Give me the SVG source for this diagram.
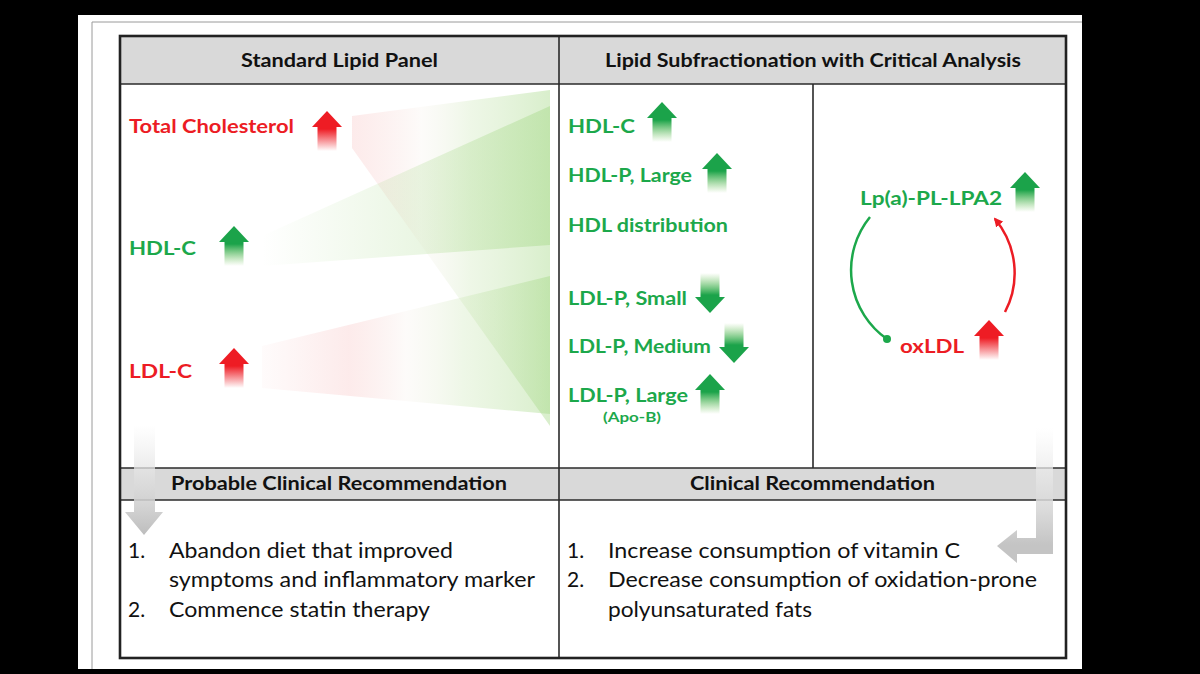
<svg xmlns="http://www.w3.org/2000/svg" xmlns:xlink="http://www.w3.org/1999/xlink" width="1200" height="674" viewBox="0 0 1200 674">
<style>
.hd{font-family:Lato,"Liberation Sans",sans-serif;font-weight:bold;font-size:18px;fill:#111}
.bd{font-family:Lato,"Liberation Sans",sans-serif;font-size:21px;fill:#111}
.g{font-family:Lato,"Liberation Sans",sans-serif;font-weight:bold;font-size:19px;fill:#1ca84b}
.r{font-family:Lato,"Liberation Sans",sans-serif;font-weight:bold;font-size:19px;fill:#ec1c24}
.ln{stroke:#2a2a2a;stroke-width:1.6;fill:none}
</style>
<defs>
<linearGradient id="gUpR" x1="0" y1="0" x2="0" y2="1"><stop offset="0" stop-color="#ee1c24"/><stop offset="0.45" stop-color="#ee1c24"/><stop offset="1" stop-color="#ee1c24" stop-opacity="0"/></linearGradient>
<linearGradient id="gUpG" x1="0" y1="0" x2="0" y2="1"><stop offset="0" stop-color="#1ba34a"/><stop offset="0.45" stop-color="#1ba34a"/><stop offset="1" stop-color="#6cc04a" stop-opacity="0"/></linearGradient>
<linearGradient id="gDnG" x1="0" y1="0" x2="0" y2="1"><stop offset="0" stop-color="#6cc04a" stop-opacity="0"/><stop offset="0.55" stop-color="#1ba34a"/><stop offset="1" stop-color="#1ba34a"/></linearGradient>
<linearGradient id="w1" gradientUnits="userSpaceOnUse" x1="352" y1="0" x2="550" y2="0"><stop offset="0" stop-color="#f08080" stop-opacity="0.16"/><stop offset="0.35" stop-color="#f4ece4" stop-opacity="0.2"/><stop offset="0.6" stop-color="#c6e4ae" stop-opacity="0.3"/><stop offset="1" stop-color="#9fd67f" stop-opacity="0.4"/></linearGradient>
<linearGradient id="w2" gradientUnits="userSpaceOnUse" x1="262" y1="0" x2="550" y2="0"><stop offset="0" stop-color="#9fd67f" stop-opacity="0"/><stop offset="1" stop-color="#9fd67f" stop-opacity="0.4"/></linearGradient>
<linearGradient id="w3" gradientUnits="userSpaceOnUse" x1="262" y1="0" x2="550" y2="0"><stop offset="0" stop-color="#f08080" stop-opacity="0.03"/><stop offset="0.3" stop-color="#f08080" stop-opacity="0.16"/><stop offset="0.5" stop-color="#f4ece4" stop-opacity="0.2"/><stop offset="0.7" stop-color="#c6e4ae" stop-opacity="0.3"/><stop offset="1" stop-color="#9fd67f" stop-opacity="0.4"/></linearGradient>
<linearGradient id="gBigL" gradientUnits="userSpaceOnUse" x1="0" y1="425" x2="0" y2="535"><stop offset="0" stop-color="#ffffff" stop-opacity="0.6"/><stop offset="1" stop-color="#bdbdbd"/></linearGradient>
<linearGradient id="gBigR" gradientUnits="userSpaceOnUse" x1="0" y1="428" x2="0" y2="545"><stop offset="0" stop-color="#ffffff" stop-opacity="0.6"/><stop offset="1" stop-color="#c4c4c4"/></linearGradient>
<path id="up" d="M15 0 L30 16 L24.5 16 L24.5 40 L5.5 40 L5.5 16 L0 16 Z"/>
<path id="dn" d="M5.5 0 L24.5 0 L24.5 24 L30 24 L15 40 L0 24 L5.5 24 Z"/>
<marker id="ahR" viewBox="0 0 10 10" refX="8" refY="5" markerWidth="9" markerHeight="9" markerUnits="userSpaceOnUse" orient="auto"><path d="M0 0 L10 5 L0 10 Z" fill="#ec1c24"/></marker>
</defs>

<rect x="0" y="0" width="1200" height="674" fill="#000"/>
<rect x="78" y="15" width="1004" height="654" fill="#fff"/>
<path d="M92 669 V22 H1082" stroke="#9a9a9a" stroke-width="1" fill="none"/>

<g id="table">
<rect x="120" y="36" width="946" height="48" fill="#d9d9d9"/>
<rect x="120" y="468" width="946" height="32" fill="#d9d9d9"/>
<line class="ln" x1="120" y1="84" x2="1066" y2="84"/>
<line class="ln" x1="120" y1="468" x2="1066" y2="468"/>
<line class="ln" x1="120" y1="500" x2="1066" y2="500"/>
<line class="ln" x1="559" y1="36" x2="559" y2="658"/>
<line class="ln" x1="813" y1="84" x2="813" y2="468"/>
<rect x="120" y="36" width="946" height="622" fill="none" stroke="#222" stroke-width="2.6"/>
<text class="hd" x="241" y="67" textLength="197" lengthAdjust="spacingAndGlyphs">Standard Lipid Panel</text>
<text class="hd" x="605" y="67" textLength="416" lengthAdjust="spacingAndGlyphs">Lipid Subfractionation with Critical Analysis</text>
<text class="hd" x="171" y="490" textLength="336" lengthAdjust="spacingAndGlyphs">Probable Clinical Recommendation</text>
<text class="hd" x="690" y="490" textLength="245" lengthAdjust="spacingAndGlyphs">Clinical Recommendation</text>
</g>

<g id="connectors">
<polygon points="352,116 550,90 550,426 352,148" fill="url(#w1)"/>
<polygon points="262,236 550,106 550,245 262,266" fill="url(#w2)"/>
<polygon points="262,346 550,276 550,414 262,388" fill="url(#w3)"/>
<path d="M870 217 A84 84 0 0 0 887 339" fill="none" stroke="#1ca84b" stroke-width="2.5"/>
<circle cx="887" cy="339" r="4" fill="#1ca84b"/>
<path d="M1005 312 A84 84 0 0 0 995 219" fill="none" stroke="#ec1c24" stroke-width="2.5" marker-end="url(#ahR)"/>
<path d="M134 425 H155 V512 H163 L144 535 L125 512 H134 Z" fill="url(#gBigL)"/>
<path d="M1036 428 H1053 V554 H1017 V563 L997 546 L1017 530 V538 H1036 Z" fill="url(#gBigR)"/>
</g>

<g id="node-total-cholesterol">
<text class="r" x="129" y="133" textLength="165" lengthAdjust="spacingAndGlyphs">Total Cholesterol</text>
<use xlink:href="#up" href="#up" x="312" y="111" fill="url(#gUpR)"/>
</g>
<g id="node-hdl-c-std">
<text class="g" x="129" y="255" textLength="67" lengthAdjust="spacingAndGlyphs">HDL-C</text>
<use xlink:href="#up" href="#up" x="219" y="226" fill="url(#gUpG)"/>
</g>
<g id="node-ldl-c-std">
<text class="r" x="129" y="378" textLength="63" lengthAdjust="spacingAndGlyphs">LDL-C</text>
<use xlink:href="#up" href="#up" x="219" y="348" fill="url(#gUpR)"/>
</g>

<g id="node-hdl-c">
<text class="g" x="568" y="133" textLength="67" lengthAdjust="spacingAndGlyphs">HDL-C</text>
<use xlink:href="#up" href="#up" x="647" y="102" fill="url(#gUpG)"/>
</g>
<g id="node-hdl-p-large">
<text class="g" x="568" y="182" textLength="124" lengthAdjust="spacingAndGlyphs">HDL-P, Large</text>
<use xlink:href="#up" href="#up" x="702" y="153" fill="url(#gUpG)"/>
</g>
<g id="node-hdl-distribution">
<text class="g" x="568" y="232" textLength="160" lengthAdjust="spacingAndGlyphs">HDL distribution</text>
</g>
<g id="node-ldl-p-small">
<text class="g" x="568" y="305" textLength="119" lengthAdjust="spacingAndGlyphs">LDL-P, Small</text>
<use xlink:href="#dn" href="#dn" x="695" y="273" fill="url(#gDnG)"/>
</g>
<g id="node-ldl-p-medium">
<text class="g" x="568" y="353" textLength="143" lengthAdjust="spacingAndGlyphs">LDL-P, Medium</text>
<use xlink:href="#dn" href="#dn" x="719" y="323" fill="url(#gDnG)"/>
</g>
<g id="node-ldl-p-large">
<text class="g" x="568" y="402" textLength="120" lengthAdjust="spacingAndGlyphs">LDL-P, Large</text>
<text class="g" x="603" y="422" style="font-size:13px" textLength="58" lengthAdjust="spacingAndGlyphs">(Apo-B)</text>
<use xlink:href="#up" href="#up" x="695" y="374" fill="url(#gUpG)"/>
</g>

<g id="node-lpa">
<text class="g" x="860" y="205" textLength="142" lengthAdjust="spacingAndGlyphs">Lp(a)-PL-LPA2</text>
<use xlink:href="#up" href="#up" x="1010" y="172" fill="url(#gUpG)"/>
</g>
<g id="node-oxldl">
<text class="r" x="900" y="353" textLength="64" lengthAdjust="spacingAndGlyphs">oxLDL</text>
<use xlink:href="#up" href="#up" x="974" y="320" fill="url(#gUpR)"/>
</g>

<g id="node-probable-recommendation">
<text class="bd" x="128" y="558">1.</text>
<text class="bd" x="169" y="558" textLength="284" lengthAdjust="spacingAndGlyphs">Abandon diet that improved</text>
<text class="bd" x="169" y="587" textLength="366" lengthAdjust="spacingAndGlyphs">symptoms and inflammatory marker</text>
<text class="bd" x="128" y="617">2.</text>
<text class="bd" x="169" y="617" textLength="261" lengthAdjust="spacingAndGlyphs">Commence statin therapy</text>
</g>
<g id="node-clinical-recommendation">
<text class="bd" x="567" y="558">1.</text>
<text class="bd" x="608" y="558" textLength="352" lengthAdjust="spacingAndGlyphs">Increase consumption of vitamin C</text>
<text class="bd" x="567" y="587">2.</text>
<text class="bd" x="608" y="587" textLength="429" lengthAdjust="spacingAndGlyphs">Decrease consumption of oxidation-prone</text>
<text class="bd" x="608" y="617" textLength="204" lengthAdjust="spacingAndGlyphs">polyunsaturated fats</text>
</g>
</svg>
